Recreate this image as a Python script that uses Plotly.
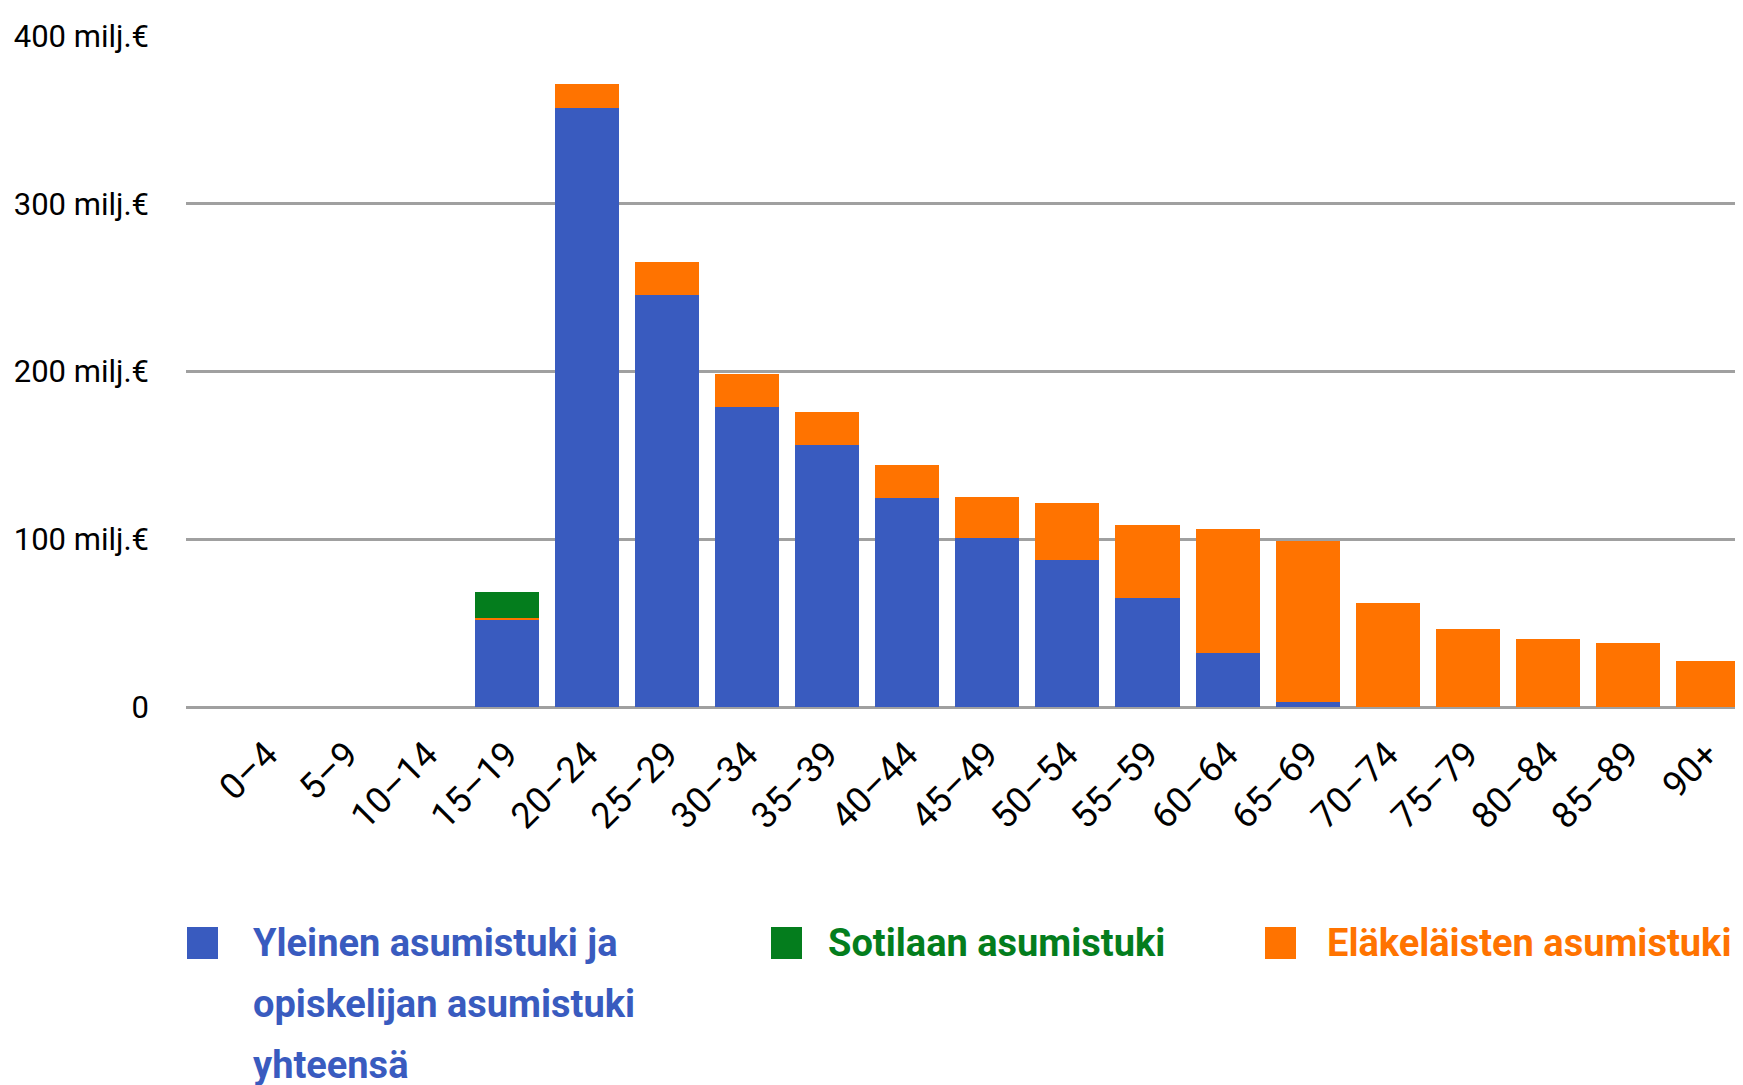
import plotly.graph_objects as go

# ---- data ----
categories = ["0–4", "5–9", "10–14", "15–19", "20–24", "25–29", "30–34", "35–39",
              "40–44", "45–49", "50–54", "55–59", "60–64", "65–69", "70–74",
              "75–79", "80–84", "85–89", "90+"]
yleinen = [0, 0, 0, 52.2, 357.0, 245.5, 178.6, 156.1, 124.5, 100.7, 87.6, 64.8,
           32.0, 2.8, 0, 0, 0, 0, 0]
elakelaisten = [0, 0, 0, 0.8, 14.3, 19.7, 19.8, 19.5, 19.7, 24.4, 34.0, 43.7,
                74.1, 96.1, 61.8, 46.3, 40.3, 38.0, 27.2]
sotilaan = [0, 0, 0, 15.5, 0, 0, 0, 0, 0, 0, 0, 0, 0, 0, 0, 0, 0, 0, 0]

series_names = ["Yleinen asumistuki ja<br>opiskelijan asumistuki<br>yhteensä",
                "Sotilaan asumistuki",
                "Eläkeläisten asumistuki"]
tick_vals = [0, 100, 200, 300, 400]
tick_text = ["0", "100 milj.€", "200 milj.€", "300 milj.€", "400 milj.€"]

BLUE = "#395BBF"
GREEN = "#047D1D"
ORANGE = "#FF7300"
GRID = "#A0A0A0"
FONT = "Roboto, Liberation Sans, sans-serif"

OFF = 8                 # page body margin offset
W, H = 1743 - OFF, 1085
ML = 186 - OFF          # plot left (figure px)
MT = 36 - OFF           # y=400 (figure px)
PB = 707 - OFF          # y=0 (figure px)
MR = 0
plot_w = W - ML - MR
plot_h = PB - MT

fig = go.Figure()
fig.add_trace(go.Bar(x=categories, y=yleinen, name=series_names[0],
                     marker=dict(color=BLUE, line=dict(width=0))))
fig.add_trace(go.Bar(x=categories, y=elakelaisten, name=series_names[2],
                     marker=dict(color=ORANGE, line=dict(width=0))))
fig.add_trace(go.Bar(x=categories, y=sotilaan, name=series_names[1],
                     marker=dict(color=GREEN, line=dict(width=0))))

fig.update_layout(
    width=W, height=H,
    barmode="stack", bargap=0.2,
    showlegend=False,
    plot_bgcolor="white", paper_bgcolor="white",
    margin=dict(l=ML, r=MR, t=MT, b=H - PB, autoexpand=False),
    font=dict(family=FONT, size=32, color="black"),
)
fig.update_xaxes(
    type="category", range=[-1.013, 18.44], automargin=False,
    tickangle=-45, showgrid=False, showline=False, zeroline=False,
    ticks="", ticklabelstandoff=18,
    tickfont=dict(family=FONT, size=36, color="black"),
)
fig.update_yaxes(
    range=[0, 400], tickvals=tick_vals, ticktext=tick_text, automargin=False,
    showgrid=True, gridcolor=GRID, gridwidth=3,
    zeroline=True, zerolinecolor=GRID, zerolinewidth=3,
    showline=False, ticks="", ticklabelstandoff=36,
    tickfont=dict(family=FONT, size=31, color="black"),
)

# page pixel -> paper coordinates
def px_x(p):
    return (p - OFF - ML) / plot_w

def px_y(p):
    return (PB - (p - OFF)) / plot_h

# ---- manual legend (large square markers + coloured bold labels) ----
LINE_STEP = 61
legend_items = [
    (187, 251, 943, BLUE, series_names[0]),
    (771, 826, 943, GREEN, series_names[1]),
    (1265, 1325, 943, ORANGE, series_names[2]),
]
for sq_x, tx, sq_y, col, label in legend_items:
    fig.add_shape(type="rect", xref="paper", yref="paper",
                  x0=px_x(sq_x), x1=px_x(sq_x + 31),
                  y0=px_y(sq_y - 16), y1=px_y(sq_y + 16),
                  fillcolor=col, line=dict(width=0))
    for i, line in enumerate(label.split("<br>")):
        fig.add_annotation(xref="paper", yref="paper", x=px_x(tx),
                           y=px_y(sq_y + i * LINE_STEP),
                           xanchor="left", yanchor="middle", align="left",
                           showarrow=False, text="<b>" + line + "</b>",
                           font=dict(family=FONT, size=38, color=col))

fig.write_html("out.html")
